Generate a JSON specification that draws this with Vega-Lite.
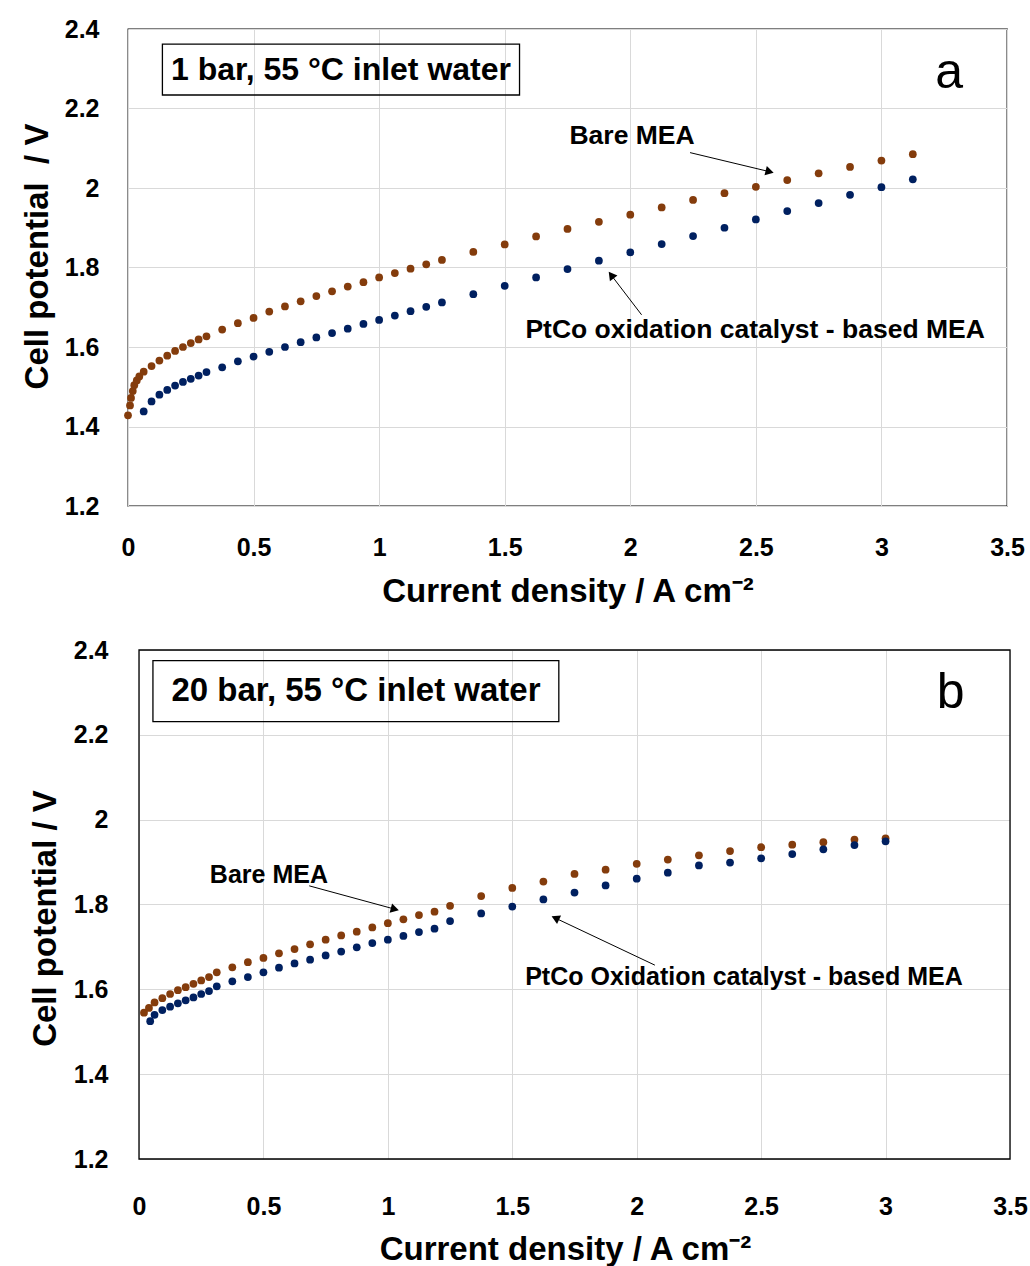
{
  "$schema": "https://vega.github.io/schema/vega-lite/v6.json",
  "padding": {"left": 20, "top": 16, "right": 0, "bottom": 0},
  "background": "white",
  "spacing": 29,
  "config": {
    "font": "Liberation Sans",
    "view": {"stroke": "black", "strokeWidth": 1.3},
    "axis": {
      "grid": true, "gridColor": "#d9d9d9", "gridWidth": 1, "domain": false, "ticks": false, "tickSize": 0,
      "labelFont": "Liberation Sans", "labelFontWeight": "bold", "labelFontSize": 25, "labelColor": "black",
      "labelFlush": false, "labelOverlap": false,
      "titleFont": "Liberation Sans", "titleFontSize": 33, "titleFontWeight": "bold", "titleColor": "black"
    }
  },
  "datasets": {
    "pts": [
      {"p":"a","s":"Bare MEA","j":0,"v":1.428},{"p":"a","s":"Bare MEA","j":0.008,"v":1.453},{"p":"a","s":"Bare MEA","j":0.012,"v":1.472},{"p":"a","s":"Bare MEA","j":0.019,"v":1.489},{"p":"a","s":"Bare MEA","j":0.025,"v":1.504},{"p":"a","s":"Bare MEA","j":0.035,"v":1.516},{"p":"a","s":"Bare MEA","j":0.045,"v":1.526},{"p":"a","s":"Bare MEA","j":0.0625,"v":1.538},{"p":"a","s":"Bare MEA","j":0.09375,"v":1.552},{"p":"a","s":"Bare MEA","j":0.125,"v":1.566},{"p":"a","s":"Bare MEA","j":0.15625,"v":1.578},{"p":"a","s":"Bare MEA","j":0.1875,"v":1.59},{"p":"a","s":"Bare MEA","j":0.21875,"v":1.6},{"p":"a","s":"Bare MEA","j":0.25,"v":1.61},{"p":"a","s":"Bare MEA","j":0.28125,"v":1.619},{"p":"a","s":"Bare MEA","j":0.3125,"v":1.627},{"p":"a","s":"Bare MEA","j":0.375,"v":1.644},{"p":"a","s":"Bare MEA","j":0.4375,"v":1.66},{"p":"a","s":"Bare MEA","j":0.5,"v":1.673},{"p":"a","s":"Bare MEA","j":0.5625,"v":1.689},{"p":"a","s":"Bare MEA","j":0.625,"v":1.702},{"p":"a","s":"Bare MEA","j":0.6875,"v":1.715},{"p":"a","s":"Bare MEA","j":0.75,"v":1.728},{"p":"a","s":"Bare MEA","j":0.8125,"v":1.74},{"p":"a","s":"Bare MEA","j":0.875,"v":1.752},{"p":"a","s":"Bare MEA","j":0.9375,"v":1.763},{"p":"a","s":"Bare MEA","j":1.0,"v":1.775},{"p":"a","s":"Bare MEA","j":1.0625,"v":1.786},{"p":"a","s":"Bare MEA","j":1.125,"v":1.797},{"p":"a","s":"Bare MEA","j":1.1875,"v":1.808},{"p":"a","s":"Bare MEA","j":1.25,"v":1.819},{"p":"a","s":"Bare MEA","j":1.375,"v":1.839},{"p":"a","s":"Bare MEA","j":1.5,"v":1.858},{"p":"a","s":"Bare MEA","j":1.625,"v":1.878},{"p":"a","s":"Bare MEA","j":1.75,"v":1.897},{"p":"a","s":"Bare MEA","j":1.875,"v":1.915},{"p":"a","s":"Bare MEA","j":2.0,"v":1.933},{"p":"a","s":"Bare MEA","j":2.125,"v":1.951},{"p":"a","s":"Bare MEA","j":2.25,"v":1.97},{"p":"a","s":"Bare MEA","j":2.375,"v":1.987},{"p":"a","s":"Bare MEA","j":2.5,"v":2.003},{"p":"a","s":"Bare MEA","j":2.625,"v":2.02},{"p":"a","s":"Bare MEA","j":2.75,"v":2.037},{"p":"a","s":"Bare MEA","j":2.875,"v":2.053},{"p":"a","s":"Bare MEA","j":3.0,"v":2.069},{"p":"a","s":"Bare MEA","j":3.125,"v":2.085},
      {"p":"a","s":"PtCo","j":0.0625,"v":1.438},{"p":"a","s":"PtCo","j":0.09375,"v":1.463},{"p":"a","s":"PtCo","j":0.125,"v":1.48},{"p":"a","s":"PtCo","j":0.15625,"v":1.492},{"p":"a","s":"PtCo","j":0.1875,"v":1.503},{"p":"a","s":"PtCo","j":0.21875,"v":1.512},{"p":"a","s":"PtCo","j":0.25,"v":1.52},{"p":"a","s":"PtCo","j":0.28125,"v":1.528},{"p":"a","s":"PtCo","j":0.3125,"v":1.537},{"p":"a","s":"PtCo","j":0.375,"v":1.549},{"p":"a","s":"PtCo","j":0.4375,"v":1.564},{"p":"a","s":"PtCo","j":0.5,"v":1.576},{"p":"a","s":"PtCo","j":0.5625,"v":1.588},{"p":"a","s":"PtCo","j":0.625,"v":1.6},{"p":"a","s":"PtCo","j":0.6875,"v":1.612},{"p":"a","s":"PtCo","j":0.75,"v":1.624},{"p":"a","s":"PtCo","j":0.8125,"v":1.635},{"p":"a","s":"PtCo","j":0.875,"v":1.646},{"p":"a","s":"PtCo","j":0.9375,"v":1.658},{"p":"a","s":"PtCo","j":1.0,"v":1.668},{"p":"a","s":"PtCo","j":1.0625,"v":1.679},{"p":"a","s":"PtCo","j":1.125,"v":1.69},{"p":"a","s":"PtCo","j":1.1875,"v":1.701},{"p":"a","s":"PtCo","j":1.25,"v":1.712},{"p":"a","s":"PtCo","j":1.375,"v":1.733},{"p":"a","s":"PtCo","j":1.5,"v":1.754},{"p":"a","s":"PtCo","j":1.625,"v":1.775},{"p":"a","s":"PtCo","j":1.75,"v":1.796},{"p":"a","s":"PtCo","j":1.875,"v":1.817},{"p":"a","s":"PtCo","j":2.0,"v":1.838},{"p":"a","s":"PtCo","j":2.125,"v":1.859},{"p":"a","s":"PtCo","j":2.25,"v":1.879},{"p":"a","s":"PtCo","j":2.375,"v":1.9},{"p":"a","s":"PtCo","j":2.5,"v":1.921},{"p":"a","s":"PtCo","j":2.625,"v":1.942},{"p":"a","s":"PtCo","j":2.75,"v":1.962},{"p":"a","s":"PtCo","j":2.875,"v":1.983},{"p":"a","s":"PtCo","j":3.0,"v":2.002},{"p":"a","s":"PtCo","j":3.125,"v":2.022},
      {"p":"b","s":"Bare MEA","j":0.02,"v":1.545},{"p":"b","s":"Bare MEA","j":0.04,"v":1.556},{"p":"b","s":"Bare MEA","j":0.0625,"v":1.569},{"p":"b","s":"Bare MEA","j":0.09375,"v":1.579},{"p":"b","s":"Bare MEA","j":0.125,"v":1.589},{"p":"b","s":"Bare MEA","j":0.15625,"v":1.598},{"p":"b","s":"Bare MEA","j":0.1875,"v":1.605},{"p":"b","s":"Bare MEA","j":0.21875,"v":1.613},{"p":"b","s":"Bare MEA","j":0.25,"v":1.621},{"p":"b","s":"Bare MEA","j":0.28125,"v":1.629},{"p":"b","s":"Bare MEA","j":0.3125,"v":1.64},{"p":"b","s":"Bare MEA","j":0.375,"v":1.652},{"p":"b","s":"Bare MEA","j":0.4375,"v":1.664},{"p":"b","s":"Bare MEA","j":0.5,"v":1.674},{"p":"b","s":"Bare MEA","j":0.5625,"v":1.685},{"p":"b","s":"Bare MEA","j":0.625,"v":1.695},{"p":"b","s":"Bare MEA","j":0.6875,"v":1.706},{"p":"b","s":"Bare MEA","j":0.75,"v":1.717},{"p":"b","s":"Bare MEA","j":0.8125,"v":1.727},{"p":"b","s":"Bare MEA","j":0.875,"v":1.736},{"p":"b","s":"Bare MEA","j":0.9375,"v":1.746},{"p":"b","s":"Bare MEA","j":1.0,"v":1.756},{"p":"b","s":"Bare MEA","j":1.0625,"v":1.765},{"p":"b","s":"Bare MEA","j":1.125,"v":1.775},{"p":"b","s":"Bare MEA","j":1.1875,"v":1.783},{"p":"b","s":"Bare MEA","j":1.25,"v":1.797},{"p":"b","s":"Bare MEA","j":1.375,"v":1.82},{"p":"b","s":"Bare MEA","j":1.5,"v":1.839},{"p":"b","s":"Bare MEA","j":1.625,"v":1.854},{"p":"b","s":"Bare MEA","j":1.75,"v":1.872},{"p":"b","s":"Bare MEA","j":1.875,"v":1.882},{"p":"b","s":"Bare MEA","j":2.0,"v":1.896},{"p":"b","s":"Bare MEA","j":2.125,"v":1.906},{"p":"b","s":"Bare MEA","j":2.25,"v":1.916},{"p":"b","s":"Bare MEA","j":2.375,"v":1.926},{"p":"b","s":"Bare MEA","j":2.5,"v":1.935},{"p":"b","s":"Bare MEA","j":2.625,"v":1.941},{"p":"b","s":"Bare MEA","j":2.75,"v":1.947},{"p":"b","s":"Bare MEA","j":2.875,"v":1.953},{"p":"b","s":"Bare MEA","j":3.0,"v":1.956},
      {"p":"b","s":"PtCo","j":0.045,"v":1.525},{"p":"b","s":"PtCo","j":0.0625,"v":1.54},{"p":"b","s":"PtCo","j":0.09375,"v":1.551},{"p":"b","s":"PtCo","j":0.125,"v":1.559},{"p":"b","s":"PtCo","j":0.15625,"v":1.567},{"p":"b","s":"PtCo","j":0.1875,"v":1.574},{"p":"b","s":"PtCo","j":0.21875,"v":1.581},{"p":"b","s":"PtCo","j":0.25,"v":1.589},{"p":"b","s":"PtCo","j":0.28125,"v":1.596},{"p":"b","s":"PtCo","j":0.3125,"v":1.607},{"p":"b","s":"PtCo","j":0.375,"v":1.619},{"p":"b","s":"PtCo","j":0.4375,"v":1.629},{"p":"b","s":"PtCo","j":0.5,"v":1.64},{"p":"b","s":"PtCo","j":0.5625,"v":1.651},{"p":"b","s":"PtCo","j":0.625,"v":1.661},{"p":"b","s":"PtCo","j":0.6875,"v":1.67},{"p":"b","s":"PtCo","j":0.75,"v":1.68},{"p":"b","s":"PtCo","j":0.8125,"v":1.689},{"p":"b","s":"PtCo","j":0.875,"v":1.699},{"p":"b","s":"PtCo","j":0.9375,"v":1.709},{"p":"b","s":"PtCo","j":1.0,"v":1.717},{"p":"b","s":"PtCo","j":1.0625,"v":1.726},{"p":"b","s":"PtCo","j":1.125,"v":1.735},{"p":"b","s":"PtCo","j":1.1875,"v":1.743},{"p":"b","s":"PtCo","j":1.25,"v":1.761},{"p":"b","s":"PtCo","j":1.375,"v":1.779},{"p":"b","s":"PtCo","j":1.5,"v":1.795},{"p":"b","s":"PtCo","j":1.625,"v":1.812},{"p":"b","s":"PtCo","j":1.75,"v":1.828},{"p":"b","s":"PtCo","j":1.875,"v":1.845},{"p":"b","s":"PtCo","j":2.0,"v":1.861},{"p":"b","s":"PtCo","j":2.125,"v":1.875},{"p":"b","s":"PtCo","j":2.25,"v":1.892},{"p":"b","s":"PtCo","j":2.375,"v":1.899},{"p":"b","s":"PtCo","j":2.5,"v":1.909},{"p":"b","s":"PtCo","j":2.625,"v":1.919},{"p":"b","s":"PtCo","j":2.75,"v":1.93},{"p":"b","s":"PtCo","j":2.875,"v":1.94},{"p":"b","s":"PtCo","j":3.0,"v":1.949}
    ],
    "frames": [
      {"p":"b","j":0,"j2":3.5,"v":1.2,"v2":2.4}
    ],
    "boxes": [
      {"p":"a","j":0.137,"j2":1.559,"v":2.362,"v2":2.234,"t":"1 bar, 55 °C inlet water","tj":0.848,"tv":2.297},
      {"p":"b","j":0.056,"j2":1.687,"v":2.375,"v2":2.231,"t":"20 bar, 55 °C inlet water","tj":0.872,"tv":2.304}
    ],
    "notes": [
      {"p":"a","t":"Bare MEA","j":2.007,"v":2.131},
      {"p":"a","t":"PtCo oxidation catalyst - based MEA","j":2.497,"v":1.642},
      {"p":"b","t":"Bare MEA","j":0.522,"v":1.869},
      {"p":"b","t":"PtCo Oxidation catalyst - based MEA","j":2.431,"v":1.629}
    ],
    "letters": [
      {"p":"a","t":"a","j":3.27,"v":2.252},
      {"p":"b","t":"b","j":3.262,"v":2.263}
    ],
    "arrows": [
      {"p":"a","k":"bare","j":2.238,"v":2.089,"j2":2.555,"v2":2.041},
      {"p":"a","k":"ptco","j":2.045,"v":1.681,"j2":1.924,"v2":1.781},
      {"p":"b","k":"bare","j":0.684,"v":1.844,"j2":1.028,"v2":1.789},
      {"p":"b","k":"ptco","j":2.073,"v":1.657,"j2":1.673,"v2":1.768}
    ]
  },
  "vconcat": [
    {
      "width": 879, "height": 477,
      "encoding": {
        "x": {"field": "j", "type": "quantitative", "scale": {"domain": [0, 3.5], "nice": false, "zero": false},
              "axis": {"values": [0, 0.5, 1, 1.5, 2, 2.5, 3, 3.5], "format": "~g", "title": "Current density / A cm⁻²", "labelPadding": 29, "titlePadding": 15}},
        "y": {"field": "v", "type": "quantitative", "scale": {"domain": [1.2, 2.4], "nice": false, "zero": false},
              "axis": {"values": [1.2, 1.4, 1.6, 1.8, 2, 2.2, 2.4], "format": "~g", "title": "Cell potential\u00a0 / V", "labelPadding": 29, "titlePadding": 10, "titleY": 227}}
      },
      "layer": [
        {"data": {"name": "boxes"}, "transform": [{"filter": "datum.p == 'a'"}],
         "mark": {"type": "rect", "fill": null, "fillOpacity": 0, "stroke": "black", "strokeWidth": 1.3},
         "encoding": {"x2": {"field": "j2"}, "y2": {"field": "v2"}}},
        {"data": {"name": "boxes"}, "transform": [{"filter": "datum.p == 'a'"}],
         "mark": {"type": "text", "fontSize": 32, "fontWeight": "bold", "color": "black", "align": "center", "baseline": "middle"},
         "encoding": {"x": {"field": "tj", "type": "quantitative"}, "y": {"field": "tv", "type": "quantitative"}, "text": {"field": "t"}}},
        {"data": {"name": "pts"}, "transform": [{"filter": "datum.p == 'a'"}],
         "mark": {"type": "point", "filled": true, "size": 60, "opacity": 1},
         "encoding": {"color": {"field": "s", "type": "nominal", "scale": {"domain": ["Bare MEA", "PtCo"], "range": ["#843c0c", "#002060"]}, "legend": null}}},
        {"data": {"name": "notes"}, "transform": [{"filter": "datum.p == 'a'"}],
         "mark": {"type": "text", "fontSize": 26.5, "fontWeight": "bold", "color": "black", "align": "center", "baseline": "middle"},
         "encoding": {"text": {"field": "t"}}},
        {"data": {"name": "letters"}, "transform": [{"filter": "datum.p == 'a'"}],
         "mark": {"type": "text", "fontSize": 50, "fontWeight": "normal", "color": "black", "align": "center", "baseline": "alphabetic"},
         "encoding": {"text": {"field": "t"}}},
        {"data": {"name": "arrows"}, "transform": [{"filter": "datum.p == 'a'"}],
         "mark": {"type": "rule", "color": "black", "strokeWidth": 1},
         "encoding": {"x2": {"field": "j2"}, "y2": {"field": "v2"}}},
        {"data": {"name": "arrows"}, "transform": [{"filter": "datum.p == 'a' && datum.k == 'bare'"}],
         "mark": {"type": "point", "shape": "triangle-right", "filled": true, "color": "black", "size": 90, "opacity": 1, "angle": 14},
         "encoding": {"x": {"field": "j2", "type": "quantitative"}, "y": {"field": "v2", "type": "quantitative"}}},
        {"data": {"name": "arrows"}, "transform": [{"filter": "datum.p == 'a' && datum.k == 'ptco'"}],
         "mark": {"type": "point", "shape": "triangle-right", "filled": true, "color": "black", "size": 90, "opacity": 1, "angle": 233},
         "encoding": {"x": {"field": "j2", "type": "quantitative"}, "y": {"field": "v2", "type": "quantitative"}}}
      ]
    },
    {
      "width": 882, "height": 509,
      "view": {"stroke": null},
      "encoding": {
        "x": {"field": "j", "type": "quantitative", "scale": {"domain": [0, 3.5], "nice": false, "zero": false, "range": [11, 882]},
              "axis": {"values": [0, 0.5, 1, 1.5, 2, 2.5, 3, 3.5], "format": "~g", "title": "Current density / A cm⁻²", "labelPadding": 35, "titlePadding": 14, "titleX": 437}},
        "y": {"field": "v", "type": "quantitative", "scale": {"domain": [1.2, 2.4], "nice": false, "zero": false},
              "axis": {"values": [1.2, 1.4, 1.6, 1.8, 2, 2.2, 2.4], "format": "~g", "title": "Cell potential / V", "labelPadding": 20, "titlePadding": 11, "titleY": 268}}
      },
      "layer": [
        {"data": {"name": "frames"}, "transform": [{"filter": "datum.p == 'b'"}],
         "mark": {"type": "rect", "fill": null, "fillOpacity": 0, "stroke": "black", "strokeWidth": 1.3},
         "encoding": {"x2": {"field": "j2"}, "y2": {"field": "v2"}}},
        {"data": {"name": "boxes"}, "transform": [{"filter": "datum.p == 'b'"}],
         "mark": {"type": "rect", "fill": null, "fillOpacity": 0, "stroke": "black", "strokeWidth": 1.3},
         "encoding": {"x2": {"field": "j2"}, "y2": {"field": "v2"}}},
        {"data": {"name": "boxes"}, "transform": [{"filter": "datum.p == 'b'"}],
         "mark": {"type": "text", "fontSize": 33, "fontWeight": "bold", "color": "black", "align": "center", "baseline": "middle"},
         "encoding": {"x": {"field": "tj", "type": "quantitative"}, "y": {"field": "tv", "type": "quantitative"}, "text": {"field": "t"}}},
        {"data": {"name": "pts"}, "transform": [{"filter": "datum.p == 'b'"}],
         "mark": {"type": "point", "filled": true, "size": 60, "opacity": 1},
         "encoding": {"color": {"field": "s", "type": "nominal", "scale": {"domain": ["Bare MEA", "PtCo"], "range": ["#843c0c", "#002060"]}, "legend": null}}},
        {"data": {"name": "notes"}, "transform": [{"filter": "datum.p == 'b'"}],
         "mark": {"type": "text", "fontSize": 25, "fontWeight": "bold", "color": "black", "align": "center", "baseline": "middle"},
         "encoding": {"text": {"field": "t"}}},
        {"data": {"name": "letters"}, "transform": [{"filter": "datum.p == 'b'"}],
         "mark": {"type": "text", "fontSize": 50, "fontWeight": "normal", "color": "black", "align": "center", "baseline": "alphabetic"},
         "encoding": {"text": {"field": "t"}}},
        {"data": {"name": "arrows"}, "transform": [{"filter": "datum.p == 'b'"}],
         "mark": {"type": "rule", "color": "black", "strokeWidth": 1},
         "encoding": {"x2": {"field": "j2"}, "y2": {"field": "v2"}}},
        {"data": {"name": "arrows"}, "transform": [{"filter": "datum.p == 'b' && datum.k == 'bare'"}],
         "mark": {"type": "point", "shape": "triangle-right", "filled": true, "color": "black", "size": 90, "opacity": 1, "angle": 15},
         "encoding": {"x": {"field": "j2", "type": "quantitative"}, "y": {"field": "v2", "type": "quantitative"}}},
        {"data": {"name": "arrows"}, "transform": [{"filter": "datum.p == 'b' && datum.k == 'ptco'"}],
         "mark": {"type": "point", "shape": "triangle-right", "filled": true, "color": "black", "size": 90, "opacity": 1, "angle": 205},
         "encoding": {"x": {"field": "j2", "type": "quantitative"}, "y": {"field": "v2", "type": "quantitative"}}}
      ]
    }
  ]
}
